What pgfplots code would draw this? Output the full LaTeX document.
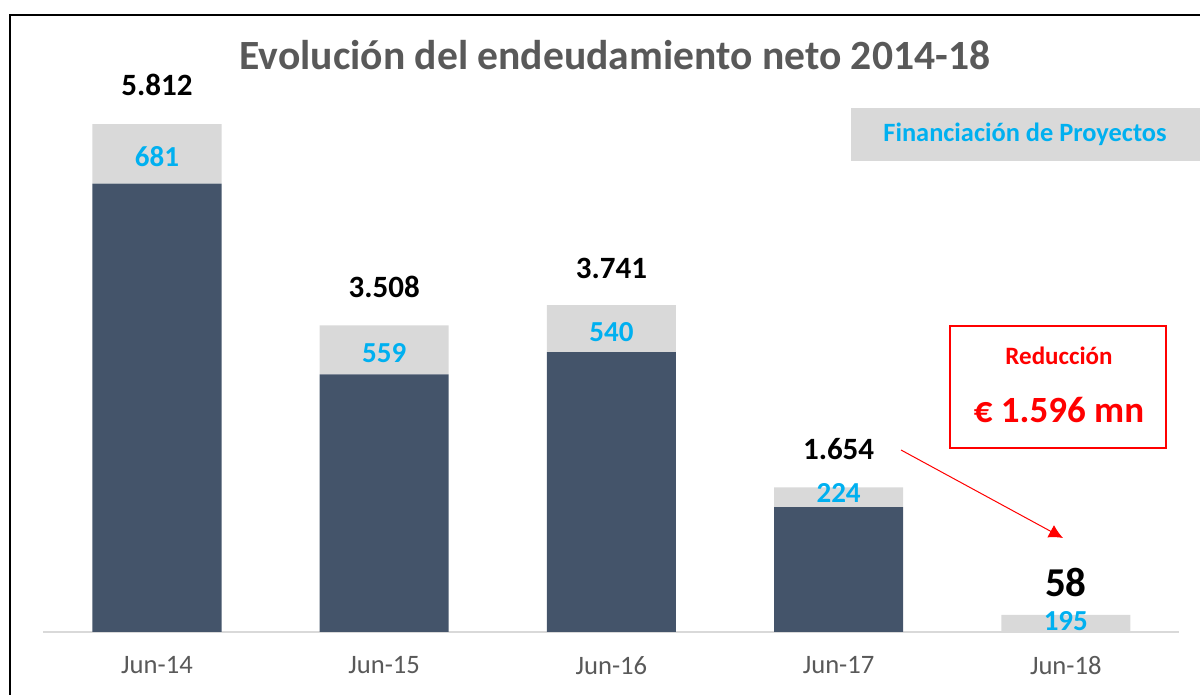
\documentclass[border=0pt]{standalone}
\usepackage{fontspec}
\setmainfont{Carlito}
\usepackage{pgfplots}
\pgfplotsset{compat=1.18}
\usetikzlibrary{arrows.meta}
\definecolor{slate}{HTML}{44546A}
\definecolor{lgrey}{HTML}{D9D9D9}
\definecolor{dgrey}{HTML}{595959}
\definecolor{skyblue}{HTML}{00B0F0}
\definecolor{xred}{HTML}{FF0000}
\tikzset{
  tot/.style={font=\bfseries\fontsize{15.5}{17}\selectfont, text=black},
  pf/.style={font=\bfseries\fontsize{14.5}{16}\selectfont, text=skyblue},
}
\begin{document}
\begin{tikzpicture}
\path[use as bounding box] (-21.7pt,-31.5pt) rectangle (578.3pt,316pt);
% frame
\draw[black, line width=1.2pt] (-16.7pt,-40pt) -- (-16.7pt,308.5pt) -- (590pt,308.5pt);
\begin{axis}[
  scale only axis,
  width=568pt, height=305.9pt,
  xmin=-0.5, xmax=4.5, ymin=0, ymax=7000,
  ybar stacked, bar width=64.5pt,
  axis x line=bottom, axis y line=none,
  x axis line style={-, draw=lgrey, line width=1pt},
  xtick=data,
  xticklabels={Jun-14,Jun-15,Jun-16,Jun-17,Jun-18},
  major tick length=0pt,
  xticklabel style={font=\fontsize{13.3}{15}\selectfont, text=dgrey, yshift=-8.5pt},
  clip=false,
]
% deuda corporativa
\addplot[fill=slate, draw=none] coordinates {(0,5131) (1,2949) (2,3201) (3,1430) (4,0)};
% financiacion de proyectos
\addplot[fill=lgrey, draw=none] coordinates {(0,681) (1,559) (2,540) (3,224) (4,195)};

% posiciones de las etiquetas
\coordinate (t0) at (axis cs:0,6258);
\coordinate (t1) at (axis cs:1,3947);
\coordinate (t2) at (axis cs:2,4164);
\coordinate (t3) at (axis cs:3,2094);
\coordinate (t4) at (axis cs:4,572);
\coordinate (p0) at (axis cs:0,5434);
\coordinate (p1) at (axis cs:1,3192);
\coordinate (p2) at (axis cs:2,3432);
\coordinate (p3) at (axis cs:3,1590);
\coordinate (p4) at (axis cs:4,126);
\coordinate (ttl) at (axis cs:2.015,6601);
\end{axis}
% totales
\node[tot] at (t0) {5.812};
\node[tot] at (t1) {3.508};
\node[tot] at (t2) {3.741};
\node[tot] at (t3) {1.654};
\node[font=\bfseries\fontsize{20.5}{22}\selectfont] at (t4) {58};
% financiacion de proyectos
\node[pf] at (p0) {681};
\node[pf] at (p1) {559};
\node[pf] at (p2) {540};
\node[pf] at (p3) {224};
\node[pf] at (p4) {195};
% titulo
\node[font=\bfseries\fontsize{20.8}{23}\selectfont, text=dgrey] at (ttl) {Evolución del endeudamiento neto 2014-18};
% leyenda
\fill[lgrey] (403.8pt,262pt) rectangle (590pt,235.5pt);
\node[font=\bfseries\fontsize{13.2}{15}\selectfont, text=skyblue] at (490.8pt,249pt) {Financiación de Proyectos};
% caja de reduccion
\draw[xred, line width=1pt] (453.3pt,153pt) rectangle (561.3pt,92pt);
\node[font=\bfseries\fontsize{12.5}{14}\selectfont, text=xred] at (507.8pt,138pt) {Reducción};
\node[font=\bfseries\fontsize{18.5}{20}\selectfont, text=xred] at (507.8pt,111pt) {€ 1.596 mn};
\draw[xred, line width=0.5pt, -{Latex[length=7pt,width=7pt]}] (428.8pt,91pt) -- (509.8pt,47pt);
\end{tikzpicture}
\end{document}
